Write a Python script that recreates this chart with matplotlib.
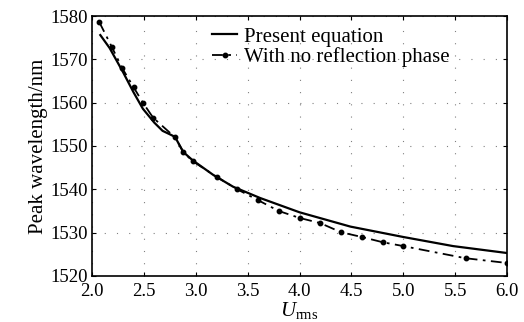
import matplotlib
matplotlib.use("Agg")
import matplotlib.pyplot as plt

plt.rcParams['font.family'] = ['Liberation Serif', 'DejaVu Serif']
plt.rcParams['mathtext.fontset'] = 'custom'
plt.rcParams['mathtext.rm'] = 'Liberation Serif'
plt.rcParams['mathtext.it'] = 'Liberation Serif:italic'

# Present equation (solid)
u_present = [2.08, 2.17, 2.30, 2.40, 2.49, 2.60, 2.68, 2.75, 2.80, 2.88, 2.97, 3.17, 3.36, 3.62, 4.0, 4.49, 5.0, 5.48, 6.0]
wl_present = [1575.6, 1572.6, 1567.0, 1562.4, 1558.6, 1555.4, 1553.5, 1552.7, 1552.1, 1548.6, 1546.7, 1543.3, 1540.6, 1538.0, 1534.7, 1531.4, 1529.0, 1526.9, 1525.3]

# With no reflection phase (dash-dot with dots)
u_norefl = [2.07, 2.19, 2.29, 2.40, 2.49, 2.59, 2.80, 2.88, 2.97, 3.20, 3.40, 3.60, 3.80, 4.00, 4.20, 4.40, 4.60, 4.80, 5.00, 5.60, 6.00]
wl_norefl = [1578.6, 1572.9, 1568.0, 1563.6, 1560.0, 1556.5, 1552.0, 1548.6, 1546.5, 1542.9, 1540.0, 1537.5, 1535.0, 1533.4, 1532.2, 1530.1, 1529.0, 1527.8, 1526.9, 1524.1, 1523.0]

xticks = [2.0, 2.5, 3.0, 3.5, 4.0, 4.5, 5.0, 5.5, 6.0]
yticks = [1520, 1530, 1540, 1550, 1560, 1570, 1580]

fig = plt.figure(figsize=(5.24, 3.22), dpi=100)
ax = fig.add_axes([0.1756, 0.1429, 0.7920, 0.8074])

ax.plot(u_present, wl_present, color='black', lw=1.6, label='Present equation')
ax.plot(u_norefl, wl_norefl, color='black', lw=1.3, linestyle=(0, (6, 3, 1.5, 3)),
        marker='o', markersize=3.2, label='With no reflection phase')

ax.set_xlim(2.0, 6.0)
ax.set_ylim(1520, 1580)
ax.set_xticks(xticks)
ax.set_xticklabels([f'{t:.1f}' for t in xticks])
ax.set_yticks(yticks)
ax.set_yticklabels([str(t) for t in yticks])
ax.tick_params(direction='in', top=True, right=True, labelsize=13.5, length=3)
ax.tick_params(axis='x', pad=5)
ax.tick_params(axis='y', pad=3)
ax.grid(True, color='gray', linestyle=(0, (1, 10)), linewidth=0.8)
for s in ax.spines.values():
    s.set_linewidth(1.2)

ax.set_ylabel('Peak wavelength/nm', fontsize=15, labelpad=2)
ax.set_xlabel(r'$U_{\rm rms}$', fontsize=15, labelpad=0)

ax.legend(loc='upper left', bbox_to_anchor=(0.29, 0.958), frameon=False, fontsize=15,
          handlelength=1.2, borderaxespad=0.0, borderpad=0.0, labelspacing=0.05,
          handletextpad=0.3, numpoints=1)

fig.savefig('out.png', dpi=100)
